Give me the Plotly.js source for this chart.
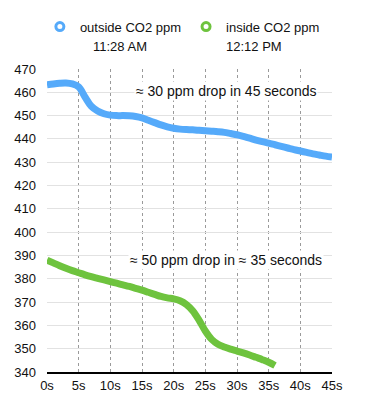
<!DOCTYPE html>
<html><head><meta charset="utf-8">
<script src="https://cdn.plot.ly/plotly-3.0.1.min.js"></script>
<style>html,body{margin:0;padding:0;background:#fff}#chart{width:377px;height:417px}</style>
</head><body><div id="chart"></div>
<script>
const seconds = [0,1,2,3,4,5,6,7,8,9,10,11,12,13,14,15,16,17,18,19,20,21,22,23,24,25,26,27,28,29,30,31,32,33,34,35,36,37,38,39,40,41,42,43,44,45];
const outsideCO2 = [463.2,463.6,463.9,464,463.6,462.3,458,454,452,450.8,450.2,450,450,449.9,449.6,449,448,447,446,445.2,444.6,444.2,444,443.9,443.7,443.5,443.3,443.1,442.8,442.3,441.8,441.1,440.3,439.5,438.8,438.2,437.5,436.8,436.1,435.4,434.8,434.2,433.6,433.1,432.6,432.2];
const insideSeconds = [0,1,2,3,4,5,6,7,8,9,10,11,12,13,14,15,16,17,18,19,20,21,22,23,24,25,26,27,28,29,30,31,32,33,34,35,36];
const insideCO2 = [388,386.8,385.6,384.5,383.5,382.6,381.7,380.9,380.2,379.5,378.8,378.1,377.4,376.7,375.9,375.1,374.2,373.3,372.4,371.8,371.4,370.6,369,366.3,362.3,357.6,354,351.9,350.7,349.8,349,348.2,347.3,346.3,345.3,344.2,342.8];
const xTicks = [0,5,10,15,20,25,30,35,40,45];
const yTicks = [340,350,360,370,380,390,400,410,420,430,440,450,460,470];
const seriesNames = ['outside CO2 ppm','inside CO2 ppm'];
const seriesTimes = ['11:28 AM','12:12 PM'];
const notes = ['≈ 30 ppm drop in 45 seconds','≈ 50 ppm drop in ≈ 35 seconds'];
const noteX = [28.2, 28.3];
const noteY = [460.6, 388];

const blue = 'rgb(85,170,250)';
const green = 'rgb(110,195,62)';
const font = 'Liberation Sans, Arial, Helvetica, sans-serif';

const traces = [
  {x: seconds, y: outsideCO2, mode:'lines', line:{color:blue,width:7,shape:'spline',smoothing:1}, showlegend:false, hoverinfo:'skip'},
  {x: insideSeconds, y: insideCO2, mode:'lines', line:{color:green,width:7,shape:'spline',smoothing:1}, showlegend:false, hoverinfo:'skip'},
  {x:[null], y:[null], mode:'markers', name:seriesNames[0], marker:{symbol:'circle-open',color:blue,size:8,line:{width:3,color:blue}}},
  {x:[null], y:[null], mode:'markers', name:seriesNames[1], marker:{symbol:'circle-open',color:green,size:8,line:{width:3,color:green}}}
];

const pw = 377-47-45, ph = 417-65-45;
const layout = {
  width:377, height:417,
  margin:{l:47,r:45,t:65,b:45},
  paper_bgcolor:'#fff', plot_bgcolor:'#fff',
  font:{family:font,size:13,color:'#111'},
  showlegend:true,
  legend:{orientation:'h', x:-0.025, xanchor:'left', y:1.14, yanchor:'middle', font:{family:font,size:13,color:'#111'}, itemclick:false, bgcolor:'rgba(0,0,0,0)', tracegroupgap:0},
  xaxis:{range:[0,45], tickvals:xTicks, ticktext:xTicks.map(v=>v+'s'), showgrid:true, gridcolor:'#9a9a9a', griddash:'dot', gridwidth:1, zeroline:false, showline:true, linecolor:'#000', linewidth:2, ticks:'', tickfont:{family:font,size:13,color:'#111'}},
  yaxis:{range:[340,470], tickvals:yTicks, showgrid:true, gridcolor:'#e2e2e2', gridwidth:1, zeroline:false, showline:false, ticks:'', ticklabelstandoff:10, tickfont:{family:font,size:13,color:'#111'}},
  annotations:[
    {x:noteX[0], y:noteY[0], xref:'x', yref:'y', text:notes[0], showarrow:false, bgcolor:'#fff', font:{family:font,size:14,color:'#111'}},
    {x:noteX[1], y:noteY[1], xref:'x', yref:'y', text:notes[1], showarrow:false, bgcolor:'#fff', font:{family:font,size:14,color:'#111'}},
    {x:(120-47)/pw, y:(417-45-42)/ph, xref:'paper', yref:'paper', xanchor:'center', yanchor:'middle', text:seriesTimes[0], showarrow:false, font:{family:font,size:13,color:'#111'}},
    {x:(254-47)/pw, y:(417-45-42)/ph, xref:'paper', yref:'paper', xanchor:'center', yanchor:'middle', text:seriesTimes[1], showarrow:false, font:{family:font,size:13,color:'#111'}}
  ]
};

Plotly.newPlot('chart', traces, layout, {staticPlot:true, displayModeBar:false});
</script></body></html>
